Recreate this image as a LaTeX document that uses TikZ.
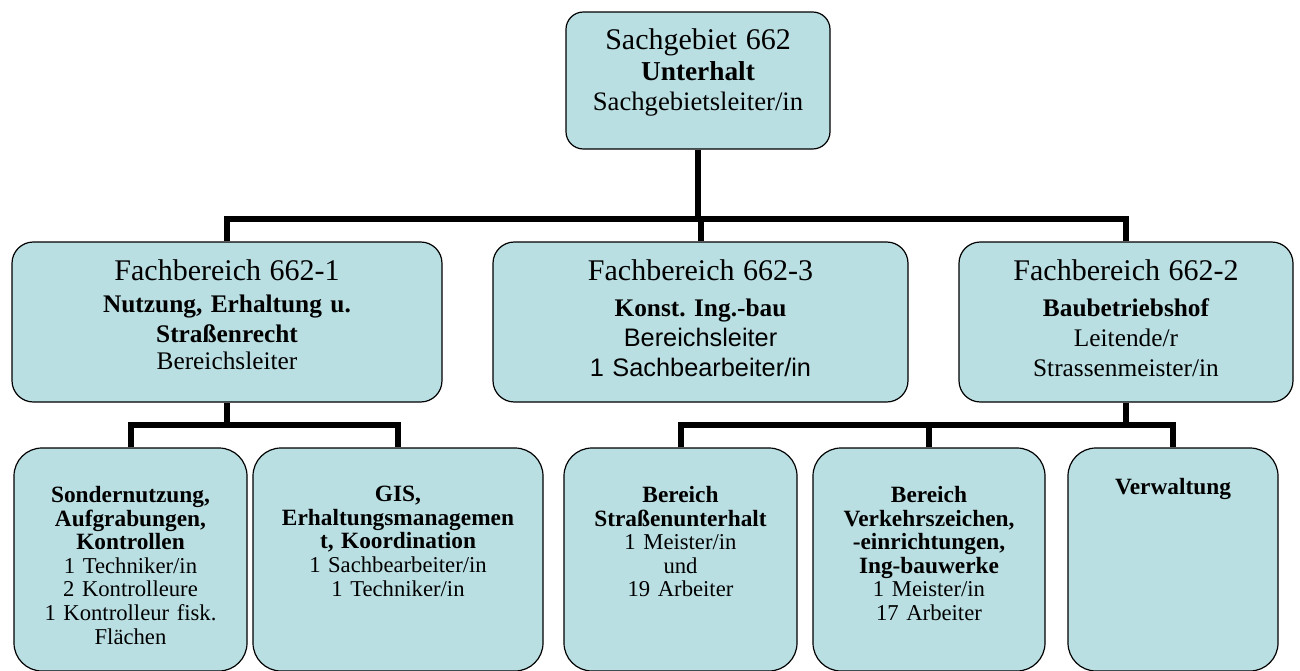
\documentclass[tikz,border=0pt]{standalone}
\usepackage{fontspec}
\setmainfont{Liberation Serif}
\setsansfont{Liberation Sans}
\usetikzlibrary{positioning,fit}
\frenchspacing

\definecolor{unitfill}{RGB}{186,223,227}

\newcommand{\toptitle}{\fontsize{22.5pt}{23pt}\selectfont}
\newcommand{\topsub}{\fontsize{20.5pt}{23pt}\selectfont\bfseries}
\newcommand{\toprole}{\fontsize{20pt}{22.5pt}\selectfont\mdseries}
\newcommand{\fbtitle}{\fontsize{22.5pt}{22.5pt}\selectfont}
\newcommand{\fbsub}{\fontsize{19pt}{22.5pt}\selectfont\bfseries}
\newcommand{\fbrole}{\fontsize{19pt}{22.5pt}\selectfont\mdseries}
\newcommand{\fbsans}{\fontsize{19pt}{22.5pt}\selectfont\mdseries\sffamily}
\newcommand{\unithead}{\fontsize{17.5pt}{17.7pt}\selectfont\bfseries}
\newcommand{\unitrole}{\fontsize{17pt}{17.7pt}\selectfont\mdseries}

\tikzset{
  unitbox/.style={draw=black, line width=0.9pt, fill=unitfill, inner sep=0pt, rounded corners=#1},
  unittext/.style={align=center, inner sep=0pt, text width=#1},
  link/.style={line width=4.5pt, draw=black}
}

\begin{document}
\begin{tikzpicture}[x=0.75pt,y=-0.75pt]
  \useasboundingbox (0,0) rectangle (1300,671);

  % Sachgebiet
  \node[unitbox=13pt, fit={(566,12) (830,149)}] (sg) {};
  \node[unittext=190pt, font=\toprole, below=13pt of sg.north] (sgtxt)
    {\toptitle Sachgebiet 662\\ \topsub Unterhalt\\ \toprole Sachgebietsleiter/in};

  % Fachbereiche
  \node[unitbox=16pt, fit={(12,242) (442,402)}] (fb1) {};
  \node[unitbox=16pt, fit={(493,242) (908,402)}] (fb3) {};
  \node[unitbox=16pt, fit={(959,242) (1293,402)}] (fb2) {};
  \node[unittext=310pt, font=\fbrole, below=13.5pt of fb1.north] (fb1txt)
    {\fbtitle Fachbereich 662-1\\[1.5pt] \fbsub Nutzung, Erhaltung u.\\ Straßenrecht\\[-2pt] \fbrole Bereichsleiter};
  \node[unittext=300pt, font=\fbsans, below=13.5pt of fb3.north] (fb3txt)
    {\fbtitle\rmfamily Fachbereich 662-3\\[4.5pt] \fbsub\rmfamily Konst. Ing.-bau\\ \fbsans Bereichsleiter\\ 1 Sachbearbeiter/in};
  \node[unittext=240pt, font=\fbrole, below=13.5pt of fb2.north] (fb2txt)
    {\fbtitle Fachbereich 662-2\\[4.5pt] \fbsub Baubetriebshof\\ \fbrole Leitende/r\\ Strassenmeister/in};

  % Bereiche
  \node[unitbox=21pt, fit={(14,448) (247,671)}] (sn) {};
  \node[unitbox=21pt, fit={(253,448) (543,671)}] (gis) {};
  \node[unitbox=21pt, fit={(564,448) (797,671)}] (su) {};
  \node[unitbox=21pt, fit={(813,448) (1045,671)}] (vz) {};
  \node[unitbox=21pt, fit={(1068,448) (1278,671)}] (vw) {};
  \node[unittext=170pt, font=\unitrole, below=29pt of sn.north] (sntxt)
    {\unithead Sondernutzung,\\ Aufgrabungen,\\ Kontrollen\\ \unitrole 1 Techniker/in\\ 2 Kontrolleure\\ 1 Kontrolleur fisk.\\ Flächen};
  \node[unittext=210pt, font=\unitrole, below=29pt of gis.north] (gistxt)
    {\unithead GIS,\\ Erhaltungsmanagemen\\ t, Koordination\\ \unitrole 1 Sachbearbeiter/in\\ 1 Techniker/in};
  \node[unittext=170pt, font=\unitrole, below=29pt of su.north] (sutxt)
    {\unithead Bereich\\ Straßenunterhalt\\ \unitrole 1 Meister/in\\ und\\ 19 Arbeiter};
  \node[unittext=170pt, font=\unitrole, below=29pt of vz.north] (vztxt)
    {\unithead Bereich\\ Verkehrszeichen,\\ -einrichtungen,\\ Ing-bauwerke\\ \unitrole 1 Meister/in\\ 17 Arbeiter};
  \node[unittext=150pt, font=\unithead, below=23pt of vw.north] (vwtxt)
    {Verwaltung};

  % Verbindungen
  \coordinate (top bar) at (698,219);
  \coordinate (left bar) at (227,425);
  \coordinate (right bar) at (1126,425);
  \draw[link] (sg.south) -- (top bar);
  \draw[link] (fb1.north) |- (top bar) -| (fb2.north);
  \draw[link] (fb3.north) -- (fb3.north |- top bar);
  \draw[link] (fb1.south) -- (left bar);
  \draw[link] (sn.north) |- (left bar) -| (gis.north);
  \draw[link] (fb2.south) -- (right bar);
  \draw[link] (su.north) |- (right bar) -| (vw.north);
  \draw[link] (vz.north) -- (vz.north |- right bar);
\end{tikzpicture}
\end{document}
